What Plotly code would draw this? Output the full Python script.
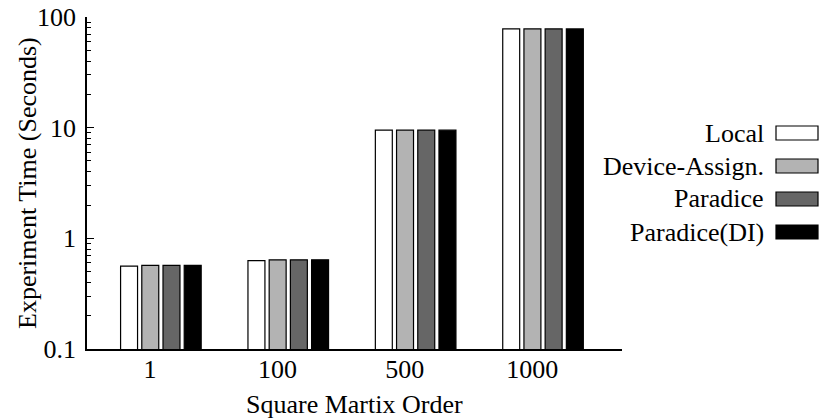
import plotly.graph_objects as go

categories = ["1", "100", "500", "1000"]
series_names = ["Local", "Device-Assign.", "Paradice", "Paradice(DI)"]
local = [0.56, 0.63, 9.5, 78]
device_assign = [0.57, 0.64, 9.5, 78]
paradice = [0.57, 0.64, 9.5, 78]
paradice_di = [0.57, 0.64, 9.5, 78]
values = [local, device_assign, paradice, paradice_di]
colors = ["#ffffff", "#b3b3b3", "#666666", "#000000"]
y_ticks = [0.1, 1, 10, 100]
y_ticktext = ["0.1", "1", "10", "100"]

FONT = "Liberation Serif, Times New Roman, serif"
FS = 26

W, H = 820, 418
L, R, T, B = 87, 622, 17, 349  # plot area pixel edges

fig = go.Figure()
xpos = list(range(len(categories)))
for name, vals, col in zip(series_names, values, colors):
    fig.add_trace(go.Bar(
        x=xpos, y=vals, name=name, marker_color=col,
        marker_line=dict(color="#000000", width=1.2),
        showlegend=False,
    ))

minor_vals = [m * 10 ** e for e in (-1, 0, 1) for m in range(2, 10)]

fig.update_layout(
    width=W, height=H,
    margin=dict(l=L, r=W - R, t=T, b=H - B),
    paper_bgcolor="white", plot_bgcolor="white",
    font=dict(family=FONT, size=FS, color="black"),
    barmode="group", bargap=0.334, bargroupgap=0.2,
    xaxis=dict(
        range=[-0.58, 3.62],
        tickmode="array",
        tickvals=[i - 0.085 for i in xpos],
        ticktext=categories,
        ticks="", showgrid=False, zeroline=False,
        showline=True, linecolor="black", linewidth=1.5,
        ticklabelstandoff=-4,
        tickfont=dict(size=FS),
        automargin=False,
    ),
    yaxis=dict(
        type="log", range=[-1, 2],
        tickmode="array", tickvals=y_ticks, ticktext=y_ticktext,
        ticks="inside", ticklen=7, tickwidth=1.2, tickcolor="black",
        minor=dict(tickmode="array", tickvals=minor_vals, ticks="inside",
                   ticklen=4, tickwidth=1, tickcolor="black", showgrid=False),
        showgrid=False, zeroline=False,
        showline=True, linecolor="black", linewidth=1.5,
        ticklabelstandoff=4,
        tickfont=dict(size=FS),
        automargin=False,
    ),
)

def px_x(p):
    return (p - L) / (R - L)

def px_y(p):
    return (B - p) / (B - T)

# Axis titles
fig.add_annotation(
    xref="paper", yref="paper", x=px_x(27), y=px_y(183),
    text="Experiment Time (Seconds)", textangle=-90, showarrow=False,
    xanchor="center", yanchor="middle",
    font=dict(family=FONT, size=FS, color="black"),
)
fig.add_annotation(
    xref="paper", yref="paper", x=px_x(354), y=px_y(404),
    text="Square Martix Order", showarrow=False,
    xanchor="center", yanchor="middle",
    font=dict(family=FONT, size=FS, color="black"),
)

# Legend drawn manually: text right-aligned, swatch to the right
row_centers = [133, 166, 199, 232]
for name, col, yc in zip(series_names, colors, row_centers):
    fig.add_annotation(
        xref="paper", yref="paper", x=px_x(766), y=px_y(yc),
        text=name, showarrow=False, xanchor="right", yanchor="middle",
        font=dict(family=FONT, size=FS, color="black"),
    )
    fig.add_shape(
        type="rect", xref="paper", yref="paper",
        x0=px_x(776), x1=px_x(818), y0=px_y(yc + 7), y1=px_y(yc - 7),
        fillcolor=col, line=dict(color="black", width=1.2),
    )

fig.write_html("out.html")
